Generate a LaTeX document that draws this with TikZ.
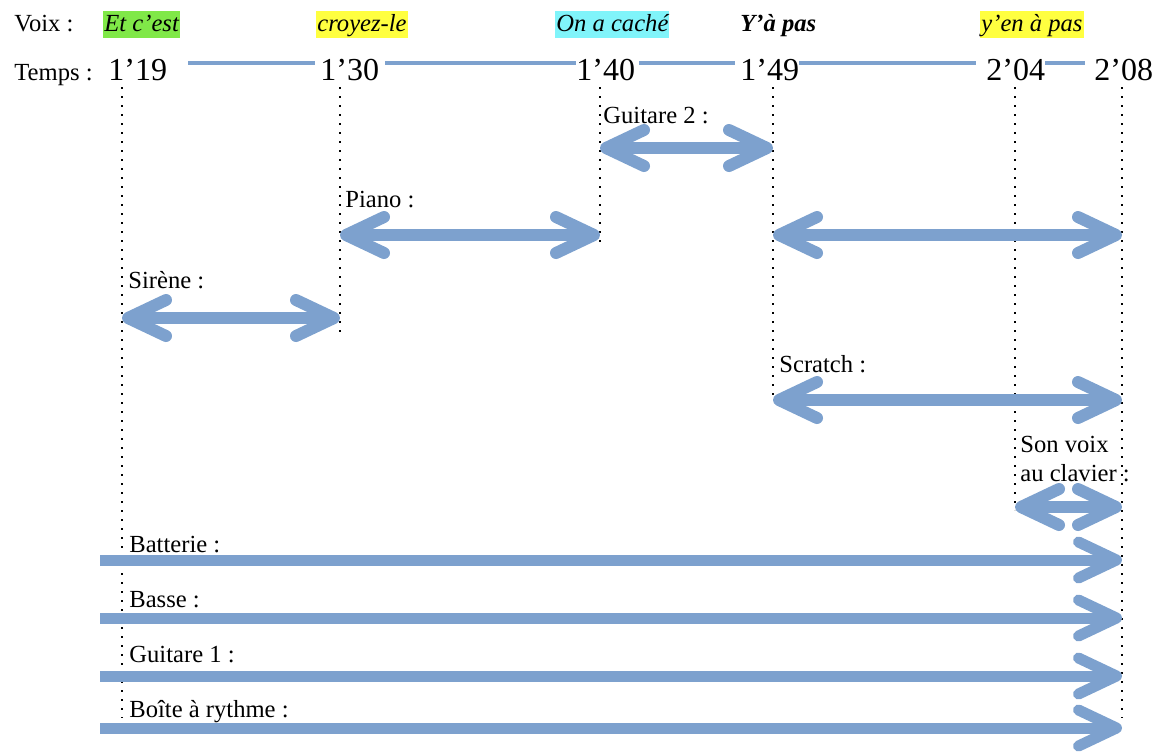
\documentclass[tikz,border=0pt]{standalone}
\usepackage{fontspec}
\setmainfont{Liberation Serif}
\usetikzlibrary{arrows.meta}
\definecolor{arrowblue}{RGB}{125,161,206}
\definecolor{hlgreen}{RGB}{128,232,72}
\definecolor{hlyellow}{RGB}{255,255,64}
\definecolor{hlcyan}{RGB}{128,244,250}
\tikzset{
  lbl/.style={anchor=base west, inner sep=0pt, font=\fontsize{12.3}{14.5}\selectfont},
  voix/.style={anchor=base west, inner xsep=0.5pt, inner ysep=0pt, text height=10pt, text depth=3.5pt, font=\fontsize{12.3}{14.5}\selectfont\itshape},
  tps/.style={anchor=base west, inner sep=0pt, font=\fontsize{16}{19}\selectfont},
  tline/.style={arrowblue, line width=2pt},
  dotline/.style={line width=0.9pt, dash pattern=on 0.9pt off 3.6pt},
  barb/.tip={Straight Barb[length=19pt,width=18pt,round]},
  duo/.style={arrowblue, line width=6pt, barb-barb},
  uno/.style={arrowblue, line width=5.5pt, -barb},
}
\begin{document}
\begin{tikzpicture}[x=0.5pt,y=-0.5pt]
\useasboundingbox (0,0) rectangle (1157,751);
% voix
\node[lbl] (voix) at (14,31) {Voix :};
\node[voix, fill=hlgreen] (v1) at (103,31) {Et c’est};
\node[voix, fill=hlyellow] (v2) at (316,31) {croyez-le};
\node[voix, fill=hlcyan] (v3) at (555,31) {On a caché};
\node[voix, font=\fontsize{12.3}{14.5}\selectfont\itshape\bfseries] (v4) at (739,31) {Y’à pas};
\node[voix, fill=hlyellow] (v5) at (980,31) {y’en à pas};
% temps
\node[lbl] (temps) at (14,80) {Temps :};
\node[tps] (t119) at (108,80) {1’19};
\node[tps] (t130) at (320,80) {1’30};
\node[tps] (t140) at (576,80) {1’40};
\node[tps] (t149) at (740,80) {1’49};
\node[tps] (t204) at (986,80) {2’04};
\node[tps] (t208) at (1094,80) {2’08};
\draw[tline, shorten <=10.5pt, shorten >=2.5pt] ([yshift=3.5pt]t119.east) -- ([yshift=3.5pt]t130.west);
\draw[tline, shorten <=3pt] ([yshift=3.5pt]t130.east) -- ([yshift=3.5pt]t140.west);
\draw[tline, shorten <=2pt, shorten >=2.5pt] ([yshift=3.5pt]t140.east) -- ([yshift=3.5pt]t149.west);
\draw[tline, shorten >=5pt] ([yshift=3.5pt]t149.east) -- ([yshift=3.5pt]t204.west);
\draw[tline, shorten >=4.5pt] ([yshift=3.5pt]t204.east) -- ([yshift=3.5pt]t208.west);
% reperes
\coordinate (c119) at (122,87);
\coordinate (c130) at (340,87);
\coordinate (c140) at (600,87);
\coordinate (c149) at (773,87);
\coordinate (c204) at (1015,87);
\coordinate (c208) at (1122,87);
\coordinate (debut) at (100,87);
\foreach \c/\yend in {c119/718, c130/335, c140/246, c149/398, c204/510, c208/718}
  \draw[dotline] (\c) -- (\c |- 0,\yend);
% instruments
\node[lbl] (guit2) at (603,123) {Guitare 2 :};
\node[lbl] (piano) at (345,207) {Piano :};
\node[lbl] (sirene) at (128,288) {Sirène :};
\node[lbl] (scratch) at (779,372) {Scratch :};
\node[lbl, anchor=north west, align=left] (sonvoix) at (1020,436) {Son voix\\au clavier :};
\node[lbl] (batt) at (129,552) {Batterie :};
\node[lbl] (basse) at (129,607) {Basse :};
\node[lbl] (guit1) at (129,662) {Guitare 1 :};
\node[lbl] (boite) at (129,717) {Boîte à rythme :};
\draw[duo] (c140 |- 0,148) -- (c149 |- 0,148);
\draw[duo] (c130 |- 0,235) -- (c140 |- 0,235);
\draw[duo] (c149 |- 0,235) -- (c208 |- 0,235);
\draw[duo] (c119 |- 0,318) -- (c130 |- 0,318);
\draw[duo] (c149 |- 0,400) -- (c208 |- 0,400);
\draw[duo] (c204 |- 0,507) -- (c208 |- 0,507);
\foreach \y in {560,618,676,728}
  \draw[uno] (debut |- 0,\y) -- (c208 |- 0,\y);
\end{tikzpicture}
\end{document}
